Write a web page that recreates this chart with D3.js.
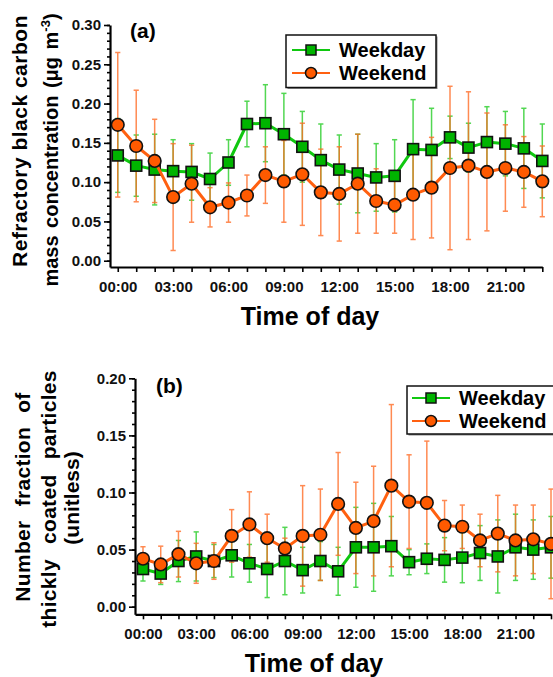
<!DOCTYPE html>
<html>
<head>
<meta charset="utf-8">
<script src="https://cdn.jsdelivr.net/npm/d3@7"></script>
<style>
  body { margin: 0; background: #fff; }
  svg { display: block; }
</style>
</head>
<body>
<div id="chart"></div>
<script>
// hours of the day and the x tick labels (every 3 h)
const hours = d3.range(0, 24);
const tickLabels = ["00:00", "03:00", "06:00", "09:00", "12:00", "15:00", "18:00", "21:00"];
const seriesNames = ["Weekday", "Weekend"];

// (a) refractory black carbon mass concentration, mean and sd
const bcWeekday = [0.134, 0.121, 0.116, 0.114, 0.113, 0.104, 0.125, 0.174, 0.175, 0.161, 0.145, 0.128,
                   0.116, 0.111, 0.106, 0.108, 0.142, 0.141, 0.157, 0.144, 0.151, 0.149, 0.143, 0.127];
const bcWeekdaySd = [0.047, 0.039, 0.045, 0.040, 0.036, 0.033, 0.029, 0.029, 0.049, 0.052, 0.045, 0.046,
                     0.044, 0.050, 0.043, 0.046, 0.063, 0.053, 0.027, 0.031, 0.045, 0.041, 0.051, 0.047];
const bcWeekend = [0.173, 0.146, 0.127, 0.081, 0.098, 0.068, 0.074, 0.083, 0.109, 0.101, 0.110, 0.087,
                   0.085, 0.098, 0.076, 0.071, 0.084, 0.093, 0.118, 0.121, 0.113, 0.118, 0.113, 0.101];
const bcWeekendSd = [0.092, 0.071, 0.053, 0.068, 0.049, 0.025, 0.025, 0.026, 0.036, 0.052, 0.065, 0.055,
                     0.060, 0.063, 0.041, 0.036, 0.057, 0.064, 0.104, 0.094, 0.075, 0.055, 0.045, 0.045];

// (b) number fraction of thickly coated particles, mean and sd
const tcWeekday = [0.033, 0.029, 0.040, 0.044, 0.040, 0.045, 0.038, 0.033, 0.040, 0.032, 0.040, 0.031,
                   0.052, 0.052, 0.053, 0.039, 0.042, 0.041, 0.043, 0.047, 0.044, 0.052, 0.050, 0.052];
const tcWeekdaySd = [0.0105, 0.0095, 0.018, 0.0215, 0.0145, 0.019, 0.0165, 0.025, 0.0295, 0.020, 0.017, 0.021,
                     0.035, 0.0385, 0.026, 0.011, 0.013, 0.0195, 0.022, 0.024, 0.032, 0.029, 0.026, 0.027];
const tcWeekend = [0.042, 0.037, 0.046, 0.038, 0.040, 0.062, 0.072, 0.060, 0.051, 0.062, 0.063, 0.090,
                   0.069, 0.075, 0.106, 0.092, 0.091, 0.071, 0.070, 0.058, 0.064, 0.058, 0.059, 0.055];
const tcWeekendSd = [0.0105, 0.016, 0.020, 0.0175, 0.016, 0.023, 0.0286, 0.021, 0.009, 0.044, 0.040, 0.045,
                     0.040, 0.048, 0.071, 0.041, 0.054, 0.022, 0.019, 0.023, 0.0335, 0.031, 0.030, 0.048];

const font = "'Liberation Sans', Arial, sans-serif";
const green = {line: "#10c810", fill: "#00b400", err: "#22cc22"};
const orange = {line: "#ff6010", fill: "#ff5a00", err: "#ff6a22"};

const svg = d3.select("#chart")
  .append("svg")
  .attr("width", 553)
  .attr("height", 677)
  .style("font-family", font);

function drawPanel(p) {
  const x = d3.scaleLinear().domain(p.xDomain).range(p.xRange);
  const y = d3.scaleLinear().domain(p.yDomain).range(p.yRange);
  const g = svg.append("g");

  // x axis
  g.append("g")
    .attr("transform", `translate(0,${p.yRange[0]})`)
    .call(d3.axisBottom(x).tickValues(hours).tickSize(5).tickSizeOuter(0).tickPadding(9)
      .tickFormat(h => (h % 3 === 0 && h < 23) ? tickLabels[h / 3] : ""));
  // y axis, major and minor ticks
  g.append("g")
    .attr("transform", `translate(${p.xRange[0]},0)`)
    .call(d3.axisLeft(y).tickValues(p.yMajor).tickSize(6).tickSizeOuter(0).tickPadding(3)
      .tickFormat(d3.format(".2f")));
  g.append("g")
    .attr("transform", `translate(${p.xRange[0]},0)`)
    .call(d3.axisLeft(y).tickValues(p.yMinor).tickSize(3).tickSizeOuter(0).tickFormat(""))
    .select(".domain").remove();

  g.selectAll(".domain").attr("stroke", "#000").attr("stroke-width", 2.2);
  g.selectAll(".tick line").attr("stroke", "#000").attr("stroke-width", 1.6);
  g.selectAll(".tick text")
    .attr("font-family", font).attr("font-size", 15).attr("font-weight", "bold").attr("fill", "#111");

  // error bars
  p.series.forEach(s => {
    const eb = g.append("g").attr("stroke", s.col.err).attr("stroke-width", 1.5).attr("opacity", 0.78);
    hours.forEach(h => {
      const lo = y(s.mean[h] - s.sd[h]), hi = y(s.mean[h] + s.sd[h]), cx = x(h);
      eb.append("line").attr("x1", cx).attr("x2", cx).attr("y1", lo).attr("y2", hi);
      eb.append("line").attr("x1", cx - 2.6).attr("x2", cx + 2.6).attr("y1", lo).attr("y2", lo);
      eb.append("line").attr("x1", cx - 2.6).attr("x2", cx + 2.6).attr("y1", hi).attr("y2", hi);
    });
  });

  // lines and markers
  p.series.forEach(s => {
    g.append("path")
      .datum(hours)
      .attr("fill", "none")
      .attr("stroke", s.col.line)
      .attr("stroke-width", 3)
      .attr("stroke-linejoin", "round")
      .attr("d", d3.line().x(h => x(h)).y(h => y(s.mean[h])));
    if (s.shape === "square") {
      g.selectAll(null).data(hours).join("rect")
        .attr("x", h => x(h) - 5.5).attr("y", h => y(s.mean[h]) - 5.5)
        .attr("width", 11).attr("height", 11)
        .attr("fill", s.col.fill).attr("stroke", "#111").attr("stroke-width", 1.6);
    } else {
      g.selectAll(null).data(hours).join("circle")
        .attr("cx", h => x(h)).attr("cy", h => y(s.mean[h])).attr("r", 6.3)
        .attr("fill", s.col.fill).attr("stroke", "#111").attr("stroke-width", 1.6);
    }
  });

  // panel letter
  g.append("text")
    .attr("x", p.letterPos[0]).attr("y", p.letterPos[1])
    .attr("font-size", 21).attr("font-weight", "bold")
    .text(p.letter);

  // x title
  g.append("text")
    .attr("x", p.xTitlePos[0]).attr("y", p.xTitlePos[1])
    .attr("text-anchor", "middle")
    .attr("font-size", 25).attr("font-weight", "bold")
    .text("Time of day");

  // y title lines (rotated)
  p.yTitle.forEach(t => {
    const txt = g.append("text")
      .attr("transform", `translate(${t.x},${t.y}) rotate(-90)`)
      .attr("text-anchor", "middle")
      .attr("font-size", t.size).attr("font-weight", "bold")
      .style("word-spacing", t.ws + "px")
      .style("letter-spacing", (t.ls || 0) + "px");
    txt.append("tspan").text(t.text);
    if (t.sup) {
      txt.append("tspan").attr("font-size", 13).attr("dy", -8).text(t.sup);
      txt.append("tspan").attr("dy", 8).text(")");
    }
  });

  // legend
  const L = p.legend;
  g.append("rect")
    .attr("x", L.x + 1.5).attr("y", L.y + 1.5).attr("width", L.w).attr("height", L.h)
    .attr("fill", "#888");
  g.append("rect")
    .attr("x", L.x).attr("y", L.y).attr("width", L.w).attr("height", L.h)
    .attr("fill", "#fff").attr("stroke", "#111").attr("stroke-width", 1.5);
  p.series.forEach((s, i) => {
    const ry = L.rows[i];
    g.append("line")
      .attr("x1", L.lineX[0]).attr("x2", L.lineX[1]).attr("y1", ry).attr("y2", ry)
      .attr("stroke", s.col.line).attr("stroke-width", 2);
    const mx = (L.lineX[0] + L.lineX[1]) / 2;
    if (s.shape === "square") {
      g.append("rect").attr("x", mx - 5).attr("y", ry - 5).attr("width", 10).attr("height", 10)
        .attr("fill", s.col.fill).attr("stroke", "#111").attr("stroke-width", 1.5);
    } else {
      g.append("circle").attr("cx", mx).attr("cy", ry).attr("r", 5.5)
        .attr("fill", s.col.fill).attr("stroke", "#111").attr("stroke-width", 1.5);
    }
    g.append("text")
      .attr("x", L.textX).attr("y", ry + 7)
      .attr("font-size", 20).attr("font-weight", "bold")
      .text(seriesNames[i]);
  });
}

drawPanel({
  xDomain: [-0.42, 23], xRange: [110, 542.3],
  yDomain: [-0.008, 0.30], yRange: [267, 25],
  yMajor: d3.range(0, 0.301, 0.05),
  yMinor: d3.range(0, 0.301, 0.01),
  series: [
    {mean: bcWeekday, sd: bcWeekdaySd, col: green, shape: "square"},
    {mean: bcWeekend, sd: bcWeekendSd, col: orange, shape: "circle"}
  ],
  letter: "(a)", letterPos: [130, 38],
  xTitlePos: [310, 325],
  yTitle: [
    {text: "Refractory black carbon", x: 27, y: 141, size: 21, ws: 0, ls: 0.5},
    {text: "mass concentration (μg m", sup: "-3", x: 58, y: 150, size: 20, ws: 2}
  ],
  legend: {x: 286, y: 35, w: 150, h: 52.5, rows: [50, 73], lineX: [292, 330], textX: 339}
});

drawPanel({
  xDomain: [-0.45, 23], xRange: [135, 551],
  yDomain: [-0.00666, 0.20], yRange: [614.3, 378.3],
  yMajor: d3.range(0, 0.201, 0.05),
  yMinor: d3.range(0, 0.201, 0.01),
  series: [
    {mean: tcWeekday, sd: tcWeekdaySd, col: green, shape: "square"},
    {mean: tcWeekend, sd: tcWeekendSd, col: orange, shape: "circle"}
  ],
  letter: "(b)", letterPos: [156, 393],
  xTitlePos: [314, 672],
  yTitle: [
    {text: "Number fraction of", x: 30, y: 497, size: 21, ws: 8, ls: 0.3},
    {text: "thickly coated particles", x: 56, y: 499, size: 21, ws: 9, ls: 0.3},
    {text: "(unitless)", x: 79, y: 498, size: 21, ws: 0}
  ],
  legend: {x: 407, y: 386, w: 160, h: 48, rows: [398, 421], lineX: [412, 450], textX: 459}
});
</script>
</body>
</html>
